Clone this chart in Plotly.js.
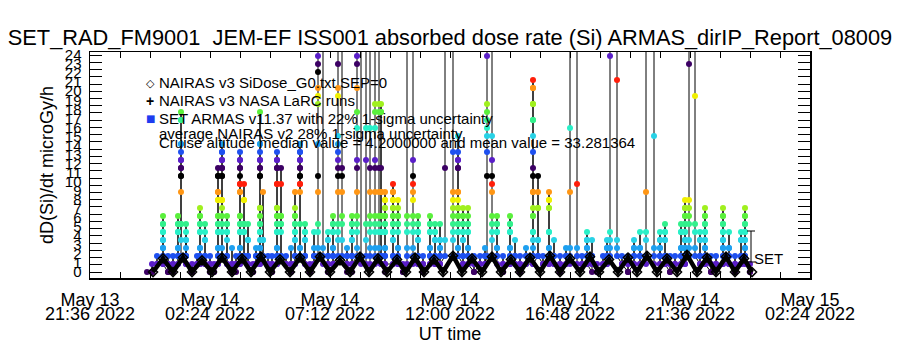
<!DOCTYPE html>
<html><head><meta charset="utf-8">
<script src="https://cdn.plot.ly/plotly-3.0.1.min.js"></script>
<style>html,body{margin:0;padding:0;background:#fff}#chart{width:900px;height:350px}</style>
</head><body><div id="chart"></div>
<script>
// ---- data ----
const xRange = ['2022-05-13 21:36', '2022-05-15 02:24'];
const xTick0 = '2022-05-13 21:36';
const yRange = [-0.66, 24.34];
const yTickValues = [0,1,2,3,4,5,6,7,8,9,10,11,12,13,14,15,16,17,18,19,20,21,22,23,24];

// SET ARMAS samples: hour after 2022-05-14 00:00 UT, and the dose counts at that time (in time order)
const setHours = [-0.12,0.08,0.28,0.52,0.72,0.92,1.12,1.24,1.44,1.68,
  1.88,2.00,2.20,2.40,2.56,2.72,2.88,3.08,3.28,3.44,
  3.60,3.76,3.92,4.12,4.24,4.40,4.52,4.72,4.88,5.08,
  5.24,5.44,5.64,5.80,6.00,6.20,6.40,6.56,6.72,6.92,
  7.12,7.32,7.52,7.68,7.88,8.08,8.28,8.44,8.64,8.80,
  9.00,9.16,9.24,9.40,9.72,9.92,10.12,10.28,10.52,10.72,
  10.92,11.20,11.40,11.60,11.80,12.12,12.32,12.52,12.72,12.96,
  13.20,13.40,13.48,13.68,13.88,14.12,14.40,14.60,14.80,15.04,
  15.32,15.52,15.72,15.96,16.16,16.40,16.64,16.80,17.08,17.28,
  17.48,17.68,17.88,18.12,18.28,18.40,18.68,18.88,19.12,19.36,
  19.60,19.84,20.16,20.40,20.60,20.80,21.00,21.24,21.40,21.56,
  21.80,22.00,22.20,22.44,22.64,22.92,23.16,23.40,23.64,23.80,
  24.00];
const setCounts = [
  [0],[0,1,0],[1,2,1],[1,2,3,4,5,6,7,6,5,4,3,2,1],[0,1,2,1,0],
  [0,1,2,1],[1,2,3,5,6,7,6,5,3,2,1],[2,6,12,13,14,15,16,19,20,19,16,14,13,12,10,6,4],[4,3,2,1,2,4,6,5,2,1],[0,1,0],
  [1,2,1],[1,2,3,5,6,7,8,7,6,5,3,2,1],[1,2,4,6,5,4,2,1],[0,1,2,1,0],[0,1,0],
  [1,2,3,5,6,7,9,10,12,13,12,10,9,7,6,5,3,2,1],[2,8,9,12,13,14,15,16,15,14,13,12,9,7,6,5,3,2],[1,2,4,5,6,7,6,5,2,1],[0,1,3,1,0],[0,1,2,1],
  [1,2,3,5,6,7,10,11,12,13,14,15,14,13,11,10,7,6,5,3,2,1],[2,5,6,9,11,9,6,5,2],[1,2,4,6,4,2,1],[0,1,0],[1,2,3,2,1],
  [1,2,3,4,5,6,7,8,12,13,14,15,16,20,16,14,13,12,8,6,5,3,2,1],[2,4,10,4,2],[1,2,1],[0,1,2,1,0],[1,2,3,5,6,7,8,11,13,14,15,14,13,11,8,7,6,5,3,2,1],
  [2,5,6,7,11,13,7,6,2],[1,2,1],[0,1,3,1,0],[1,2,4,5,6,7,8,10,7,6,5,4,2,1],[2,3,11,12,13,14,15,16,15,14,13,12,11,10,6,3,2],
  [1,2,4,5,6,5,4,2,1],[0,1,0],[1,2,3,5,2,1],[2,3,5,6,10,12,16,21,22,23,25,26,27,45],[45,3,2,1],
  [0,1,2,4,5,4,2,1,0],[1,2,3,5,6,7,6,5,3,2,1],[2,4,5,6,10,12,13,14,15,16,17,22,23,26,45],[45,13,12,10,7,6,4,2],[1,2,3,2,1,0],
  [0,1,2,4,5,6,7,6,5,4,2,1],[2,3,5,6,7,10,13,14,18,20,23,26,27,45],[45,2,1],[1,2,4,6,14,18,45],[45,18,13,10,7,6,5,3,2,1],
  [1,2,3,5,6,7,10,13,14,18,20,21,45],[45,21,20,13,10,7,6,5,3,2],[1,2,5,7,10,13,20,21,20,10,7,5,2,1],[0,1,2,3,5,6,7,8,9,10,9,8,7,6,5,3,2,1],[1,2,4,5,6,7,8,9,10,11,10,9,8,7,6,5,4,2,1],
  [1,2,3,5,6,7,8,9,7,6,3,2,1],[0,1,0],[1,2,3,5,6,7,45],[45,14,12,11,10,9,7,6,5,3,2,1],[1,2,4,5,6,7,6,5,4,2,1],
  [0,1,2,1,0],[1,2,3,5,6,7,6,5,3,2,1],[1,2,4,5,6,5,4,2,1],[1,2,3,4,6,4,3,2,1],[2,4,13,45],
  [45,15,10,9,8,7,6,5,4,2],[2,3,5,6,7,8,9,10,13,14,15,17,14,13,10,8,7,6,5,3,2],[1,2,4,5,6,7,8,7,6,5,4,2,1],[1,2,3,5,6,7,8,6,5,3,2,1],[0,1,2,1,0],
  [1,2,1],[1,2,3,2,1],[2,12,15,17,18,19,20,21,27,45],[45,17,14,12,11,10,7,6,5,4,2],[2,3,5,6,7,6,5,3,2,1],
  [0,1,2,1,0],[1,2,3,5,6,7,6,5,3,2,1],[1,2,4,2,1],[0,1,2,1,0],[1,2,3,2,1],
  [1,2,3,5,7,10,13,17,19,21,23,24,23,21,19,15,12,10,8,7,5,4,2,1],[2,4,8,10,12,8,4,2],[1,2,1],[1,2,3,5,8,9,10,9,8,5,3,2,1],[1,2,4,2,1],
  [0,1,2,1,0],[1,2,3,2,1],[1,2,3,10,18,45],[45,11,3,2,1],[1,2,1],
  [1,2,3,4,5,4,3,2,1],[0,1,2,4,2,1],[0,1,0],[1,2,1],[1,2,3,4,3,2,1],
  [2,3,4,5,27,45],[45,24,4,3,2],[1,2,1],[0,1,2,1,0],[1,2,3,4,3,2,1],
  [1,2,3,5,3,2,1],[1,2,4,5,10,45],[45,17,3,2,1],[1,2,3,4,5,4,3,2,1],[1,2,4,5,6,5,4,2,1],
  [0,1,2,1,0],[1,2,1],[1,2,3,5,6,5,3,2,1],[1,2,3,4,5,6,7,8,9,8,7,6,5,4,3,2,1],[2,3,4,6,7,8,9,26,45],
  [45,22,6,5,3,2],[1,2,4,5,4,2,1],[1,2,3,4,5,6,7,8,7,6,5,4,3,2,1],[0,1,2,1,0],[1,2,1],
  [1,2,3,4,5,6,7,8,7,6,5,4,3,2,1],[1,2,3,5,3,2,1],[0,1,2,1,0],[1,2,4,5,4,2,1],[1,2,3,4,5,6,7,8,7,6,5,4,3,2,1],
  [0,1,0]];
const DOSE_PER_COUNT = 0.885; // microGy/h per count step

// NAIRAS v3 model: hour after 2022-05-14 00:00 UT and dose rate
const nairasHours = [0.12,0.52,0.92,1.32,1.68,2.08,2.48,2.88,3.28,3.68,4.04,4.44,4.80,5.20,5.60,6.00,
  6.40,6.80,7.20,7.60,8.00,8.40,8.76,9.12,9.48,9.88,10.24,10.60,10.96,11.36,11.72,12.12,
  12.48,12.88,13.28,13.68,14.04,14.44,14.80,15.20,15.60,16.00,16.40,16.80,17.20,17.60,17.96,18.36,
  18.72,19.12,19.48,19.88,20.28,20.68,21.08,21.48,21.88,22.28,22.64,23.04,23.40,23.76,24.08];
const nairasDose = [0.0,1.5,0.0,1.6,0.0,1.3,0.0,1.6,0.0,1.5,0.0,1.7,0.0,1.4,0.0,1.6,
  0.0,1.7,0.0,1.3,0.0,1.7,0.0,1.5,0.0,1.4,0.0,1.6,0.0,1.4,0.0,1.8,
  0.0,1.5,0.0,1.7,0.0,1.4,0.0,1.6,0.0,1.8,0.0,1.5,0.0,1.7,0.0,1.4,
  0.0,1.6,0.0,1.8,0.0,1.5,0.0,1.9,0.0,1.6,0.0,1.7,0.0,1.5,0.0];

const titleText = 'SET_RAD_FM9001\u00a0\u00a0JEM-EF ISS001 absorbed dose rate (Si) ARMAS_dirIP_Report_08009';
const legendLines = [
  'NAIRAS v3 SiDose_G0.txt SEP=0',
  'NAIRAS v3 NASA LaRC runs',
  'SET ARMAS v11.37 with 22% 1-sigma uncertainty',
  'average NAIRAS v2 28% 1-sigma uncertainty',
  'Cruise altitude median value = 4.2000000 and mean value = 33.281364'];

// ---- drawing ----
const FONT = 'Liberation Sans, Arial, sans-serif';
const DAY0 = Date.UTC(2022, 4, 14);
const HOUR = 3600000;
const levelColors = ['#3c0064','#5a1ec8','#1e50f0','#1ea0f0','#28d2e6','#28f0c8','#32f08c',
  '#5af03c','#a0f01e','#f0f000','#ff9614','#ff1e0a','#000000'];

const setX = [], setY = [], setC = [];
setHours.forEach((h, i) => {
  setCounts[i].forEach(c => {
    setX.push(DAY0 + h * HOUR);
    setY.push(c * DOSE_PER_COUNT);
    setC.push(levelColors[c % levelColors.length]);
  });
});
const nX = nairasHours.map(h => DAY0 + h * HOUR);

const traces = [
  {type:'scatter', mode:'lines+markers', x:setX, y:setY, xaxis:'x', yaxis:'y',
   line:{color:'#000', width:1}, marker:{symbol:'circle', size:6, color:setC}, hoverinfo:'skip'},
  {type:'scatter', mode:'lines+markers', x:nX, y:nairasDose, xaxis:'x2', yaxis:'y2',
   line:{color:'#000', width:4.5}, marker:{symbol:'diamond-open', size:7, color:'#000', line:{width:1.5}}, hoverinfo:'skip'}
];

const px2x = p => (p - 90) / 720;
const px2y = p => (278 - p) / 226;
const legendY = [82, 100, 118, 133, 142];
const annotations = legendLines.map((t, i) => ({
  text: t, xref:'paper', yref:'paper', x: px2x(157), y: px2y(legendY[i]),
  xanchor:'left', yanchor:'middle', showarrow:false, font:{size:15, color:'#000', family:FONT}
}));
annotations.push({text:'\u25c7', xref:'paper', yref:'paper', x:px2x(150), y:px2y(83), xanchor:'center', yanchor:'middle', showarrow:false, font:{size:11, color:'#000', family:'DejaVu Sans'}});
annotations.push({text:'<b>+</b>', xref:'paper', yref:'paper', x:px2x(150), y:px2y(101), xanchor:'center', yanchor:'middle', showarrow:false, font:{size:14, color:'#000', family:FONT}});
annotations.push({text:'\u25a0', xref:'paper', yref:'paper', x:px2x(150), y:px2y(118), xanchor:'center', yanchor:'middle', showarrow:false, font:{size:10, color:'#1e3cf0', family:'DejaVu Sans'}});
annotations.push({text:'SET', xref:'paper', yref:'paper', x:px2x(752), y:px2y(258), xanchor:'left', yanchor:'middle', showarrow:false, font:{size:15, color:'#000', family:FONT}});

const shapes = [
  {type:'line', xref:'paper', yref:'paper', x0:px2x(751), x1:px2x(751), y0:px2y(262), y1:px2y(231), line:{color:'#000', width:1}},
  {type:'line', xref:'paper', yref:'paper', x0:px2x(747), x1:px2x(755), y0:px2y(262), y1:px2y(262), line:{color:'#000', width:1}},
  {type:'line', xref:'paper', yref:'paper', x0:px2x(747), x1:px2x(755), y0:px2y(231), y1:px2y(231), line:{color:'#000', width:1}}
];

const xCommon = {type:'date', range:xRange, tickmode:'linear', tick0:xTick0, dtick:4.8*HOUR,
  showgrid:false, zeroline:false, tickfont:{size:18, family:FONT, color:'#000'}};

const layout = {
  width:900, height:350, paper_bgcolor:'#fff', plot_bgcolor:'#fff',
  font:{family:FONT, color:'#000'}, showlegend:false,
  margin:{l:90, r:90, t:52, b:72, pad:0},
  title:{text:titleText, font:{size:21.8, family:FONT, color:'#000'}, x:0.5, xanchor:'center', xref:'container',
         y:1 - 37/350, yref:'container', yanchor:'middle'},
  xaxis: Object.assign({}, xCommon, {tickformat:'%b %d', ticks:'inside', ticklen:6, tickcolor:'#000', tickwidth:1,
    minor:{tickmode:'linear', tick0:xTick0, dtick:1.2*HOUR, ticks:'inside', ticklen:6, tickcolor:'#000', tickwidth:1},
    showline:true, linecolor:'#000', linewidth:1.5, mirror:'ticks', ticklabelstandoff:5,
    title:{text:'UT time', font:{size:18, family:FONT, color:'#000'}, standoff:18}}),
  xaxis2: Object.assign({}, xCommon, {overlaying:'x', anchor:'y', side:'bottom', tickformat:'%H:%M %Y', ticks:'',
    showline:false, ticklabelstandoff:23}),
  yaxis: {range:yRange, tickmode:'array', tickvals:yTickValues, ticks:'', showline:true, linecolor:'#000', linewidth:1.5,
    mirror:true, showgrid:false, zeroline:false, tickfont:{size:15, family:FONT, color:'#000'}, ticklabelstandoff:4,
    title:{text:'dD(Si)/dt microGy/h', font:{size:18, family:FONT, color:'#000'}, standoff:6}},
  yaxis2: {overlaying:'y', anchor:'x', side:'left', range:yRange, tickmode:'linear', tick0:0, dtick:0.8,
    ticks:'inside', ticklen:12, tickcolor:'#000', tickwidth:1, mirror:'ticks', showline:true, linecolor:'#000', linewidth:1.5,
    showticklabels:false, showgrid:false, zeroline:false},
  annotations: annotations, shapes: shapes
};

Plotly.newPlot('chart', traces, layout, {staticPlot:true, displayModeBar:false});
</script>
</body></html>
